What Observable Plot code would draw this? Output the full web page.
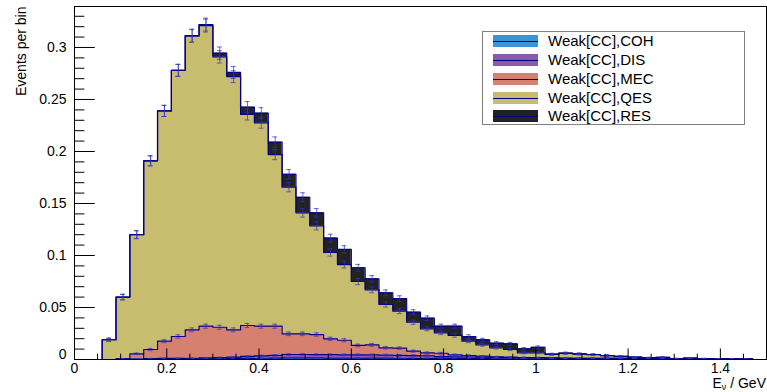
<!DOCTYPE html>
<html><head><meta charset="utf-8">
<script src="https://cdn.jsdelivr.net/npm/d3@7"></script>
<script src="https://cdn.jsdelivr.net/npm/@observablehq/plot@0.6"></script>
<style>
body{margin:0;background:#fff;font-family:"Liberation Sans",Arial,Helvetica,sans-serif;}
#wrap{position:relative;width:767px;height:392px;}
#legend{position:absolute;left:482px;top:31px;width:263px;height:94px;border:1px solid #808080;background:#fff;box-sizing:border-box;}
.item{position:absolute;left:10px;height:14px;display:flex;align-items:center;}
.sw{width:45px;height:12px;position:relative;margin-right:10px;}
.sw::after{content:"";position:absolute;left:0;right:0;top:5.5px;height:1px;background:#00008b;}
.lab{font-size:15px;color:#000;line-height:14px;}
</style></head><body><div id="wrap"><div id="legend"></div></div>
<script>
// ---- data ----
const layers = ["Weak[CC],COH", "Weak[CC],DIS", "Weak[CC],MEC", "Weak[CC],QES", "Weak[CC],RES"];
const colors = ["#3a94d8", "#8a5aab", "#d6806f", "#c8bc6f", "#222222"];
const binWidth = 0.03;
const binLow = [0.06,0.09,0.12,0.15,0.18,0.21,0.24,0.27,0.30,0.33,0.36,0.39,0.42,0.45,0.48,0.51,0.54,0.57,0.60,0.63,0.66,0.69,0.72,0.75,0.78,0.81,0.84,0.87,0.90,0.93,0.96,0.99,1.02,1.05,1.08,1.11,1.14,1.17,1.20,1.23,1.26,1.29,1.32,1.35,1.38,1.41,1.44];
const coh = [0,0.0001,0.0002,0.0003,0.0004,0.0004,0.0005,0.0006,0.0007,0.0008,0.001,0.0012,0.0013,0.0015,0.0015,0.0015,0.0014,0.0014,0.0014,0.0013,0.0013,0.0012,0.0011,0.0011,0.001,0.0009,0.0009,0.0008,0.0007,0.0006,0.0006,0.0005,0.0005,0.0005,0.0004,0.0004,0.0004,0.0004,0.0003,0.0003,0.0003,0.0002,0.0002,0.0002,0.0002,0.0002,0.0001];
const dis = [0,0.0002,0.0003,0.0005,0.0006,0.0006,0.0007,0.0009,0.0011,0.0014,0.002,0.0023,0.0027,0.0033,0.0033,0.0031,0.0032,0.0031,0.0031,0.0031,0.003,0.0028,0.0027,0.0025,0.0018,0.0017,0.0015,0.0014,0.0013,0.0012,0.001,0.001,0.0008,0.0007,0.0007,0.0007,0.0006,0.0006,0.0006,0.0005,0.0005,0.0004,0.0004,0.0003,0.0003,0.0003,0.0003];
const mec = [0,0.0004,0.005,0.0088,0.0166,0.0211,0.0273,0.0305,0.0292,0.0263,0.0297,0.0285,0.028,0.0199,0.0199,0.0194,0.0153,0.014,0.009,0.0097,0.0069,0.0069,0.0042,0.0028,0.0032,0.0019,0.0014,0.001,0.0005,0.0004,0.0003,0.0003,0.0002,0.0002,0.0001,0.0001,0.0001,0,0,0,0,0,0,0,0,0,0];
const qes = [0.019,0.0593,0.1145,0.1814,0.2214,0.2559,0.2825,0.289,0.260,0.2435,0.2029,0.1956,0.165,0.141,0.1163,0.1045,0.083,0.0728,0.0615,0.0529,0.0417,0.0356,0.0279,0.0231,0.0196,0.0186,0.0138,0.0109,0.0087,0.0074,0.0045,0.0046,0.0035,0.0045,0.004,0.0034,0.0026,0.002,0.0013,0.0008,0.0012,0.0002,0.0007,0.0003,0,0.0001,0];
const res = [0,0,0,0,0,0,0.0005,0.001,0.0035,0.004,0.007,0.0092,0.012,0.0123,0.015,0.0125,0.0138,0.0145,0.0132,0.0106,0.0112,0.0121,0.0096,0.0102,0.0064,0.0089,0.0045,0.0048,0.0045,0.0055,0.0039,0.0054,0.0002,0.0003,0.0003,0.0002,0.0001,0,0,0,0,0,0,0,0,0,0];
const errScale = 0.00012; // per-event weight used for sqrt(sum w^2) error bars
const xMajor = [0, 0.2, 0.4, 0.6, 0.8, 1, 1.2, 1.4];
const yMajor = [0.05, 0.1, 0.15, 0.2, 0.25, 0.3];

// ---- build tables ----
const series = [coh, dis, mec, qes, res];
const W = 767, H = 392, mL = 74, mR = 1, mT = 6, mB = 33;
const frameW = W - mL - mR, frameH = H - mT - mB;
const areaPts = [], linePts = [], errs = [];
const cumPrev = binLow.map(() => 0);
series.forEach((vals, i) => {
  const lo = cumPrev.slice();
  const hi = vals.map((v, j) => lo[j] + v);
  const name = layers[i];
  binLow.forEach((e, j) => {
    areaPts.push({layer: name, x: e, lo: lo[j], hi: hi[j]});
    areaPts.push({layer: name, x: e + binWidth, lo: lo[j], hi: hi[j]});
  });
  linePts.push({layer: name, x: binLow[0], y: 0});
  binLow.forEach((e, j) => {
    linePts.push({layer: name, x: e, y: hi[j]});
    linePts.push({layer: name, x: e + binWidth, y: hi[j]});
  });
  linePts.push({layer: name, x: binLow[binLow.length - 1] + binWidth, y: 0});
  binLow.forEach((e, j) => {
    if (hi[j] > 0) {
      const er = Math.sqrt(hi[j] * errScale);
      errs.push({c: e + binWidth / 2, lo: hi[j] - er, hi: hi[j] + er});
    }
  });
  hi.forEach((v, j) => cumPrev[j] = v);
});

const capHalf = 2.4 * 1.5 / frameW;
errs.forEach(d => { d.x1 = d.c - capHalf; d.x2 = d.c + capHalf; });
const xMinor = d3.range(0.05, 1.5001, 0.05).filter(v => Math.abs(v / 0.2 - Math.round(v / 0.2)) > 1e-6);
const yMinor = d3.range(0.01, 0.3301, 0.01).filter(v => Math.abs(v / 0.05 - Math.round(v / 0.05)) > 1e-6);
const fmt = d => String(+d.toFixed(2));
const errColor = "#3030c0";

const chart = Plot.plot({
  width: W, height: H,
  marginLeft: mL, marginRight: mR, marginTop: mT, marginBottom: mB,
  x: {domain: [0, 1.5], label: null},
  y: {domain: [0, 0.3394], label: null},
  color: {domain: layers, range: colors},
  style: {fontFamily: '"Liberation Sans", Arial, Helvetica, sans-serif', fontSize: "14px", background: "white", color: "black"},
  marks: [
    Plot.areaY(areaPts, {x: "x", y1: "lo", y2: "hi", z: "layer", fill: "layer", fillOpacity: 1}),
    Plot.line(linePts, {x: "x", y: "y", z: "layer", stroke: "#00008b", strokeWidth: 1.2}),
    Plot.ruleX(errs, {x: "c", y1: "lo", y2: "hi", stroke: errColor, strokeWidth: 1, strokeOpacity: 0.7}),
    Plot.ruleY(errs, {y: "hi", x1: "x1", x2: "x2", stroke: errColor, strokeWidth: 1, strokeOpacity: 0.7}),
    Plot.ruleY(errs, {y: "lo", x1: "x1", x2: "x2", stroke: errColor, strokeWidth: 1, strokeOpacity: 0.7}),
    Plot.ruleX(xMajor, {x: d => d, insetTop: frameH - 10.6, stroke: "black"}),
    Plot.ruleX(xMinor, {x: d => d, insetTop: frameH - 5.3, stroke: "black"}),
    Plot.ruleY(yMajor, {y: d => d, insetRight: frameW - 20.8, stroke: "black"}),
    Plot.ruleY(yMinor, {y: d => d, insetRight: frameW - 10.4, stroke: "black"}),
    Plot.frame({stroke: "black"}),
    Plot.axisX(xMajor, {tickSize: 0, tickPadding: 4, tickFormat: fmt}),
    Plot.axisY(yMajor, {tickSize: 0, tickPadding: 8, tickFormat: fmt}),
    Plot.axisY([0], {tickSize: 0, tickPadding: 8, tickFormat: fmt, dy: -5}),
    Plot.text(["Events per bin"], {frameAnchor: "top-left", rotate: -90, textAnchor: "end", dx: -58, dy: 0, fontSize: 14})
  ]
});

const svg = d3.select(chart);
const t = svg.append("text").attr("x", W - 1).attr("y", 388).attr("text-anchor", "end")
  .attr("font-size", 14).attr("fill", "black");
t.append("tspan").text("E");
t.append("tspan").attr("font-size", 9).attr("dy", 2).text("ν");
t.append("tspan").attr("dy", -2).text(" / GeV");

document.getElementById("wrap").prepend(chart);
chart.style.position = "absolute"; chart.style.left = "0"; chart.style.top = "0";

// legend
const leg = document.getElementById("legend");
const rowTops = [9, 28, 47, 66, 84];
layers.forEach((name, i) => {
  const it = document.createElement("div");
  it.className = "item";
  it.style.top = (rowTops[i] - 7) + "px";
  const sw = document.createElement("div");
  sw.className = "sw"; sw.style.background = colors[i];
  const lab = document.createElement("span");
  lab.className = "lab"; lab.textContent = name;
  it.appendChild(sw); it.appendChild(lab);
  leg.appendChild(it);
});
</script></body></html>
